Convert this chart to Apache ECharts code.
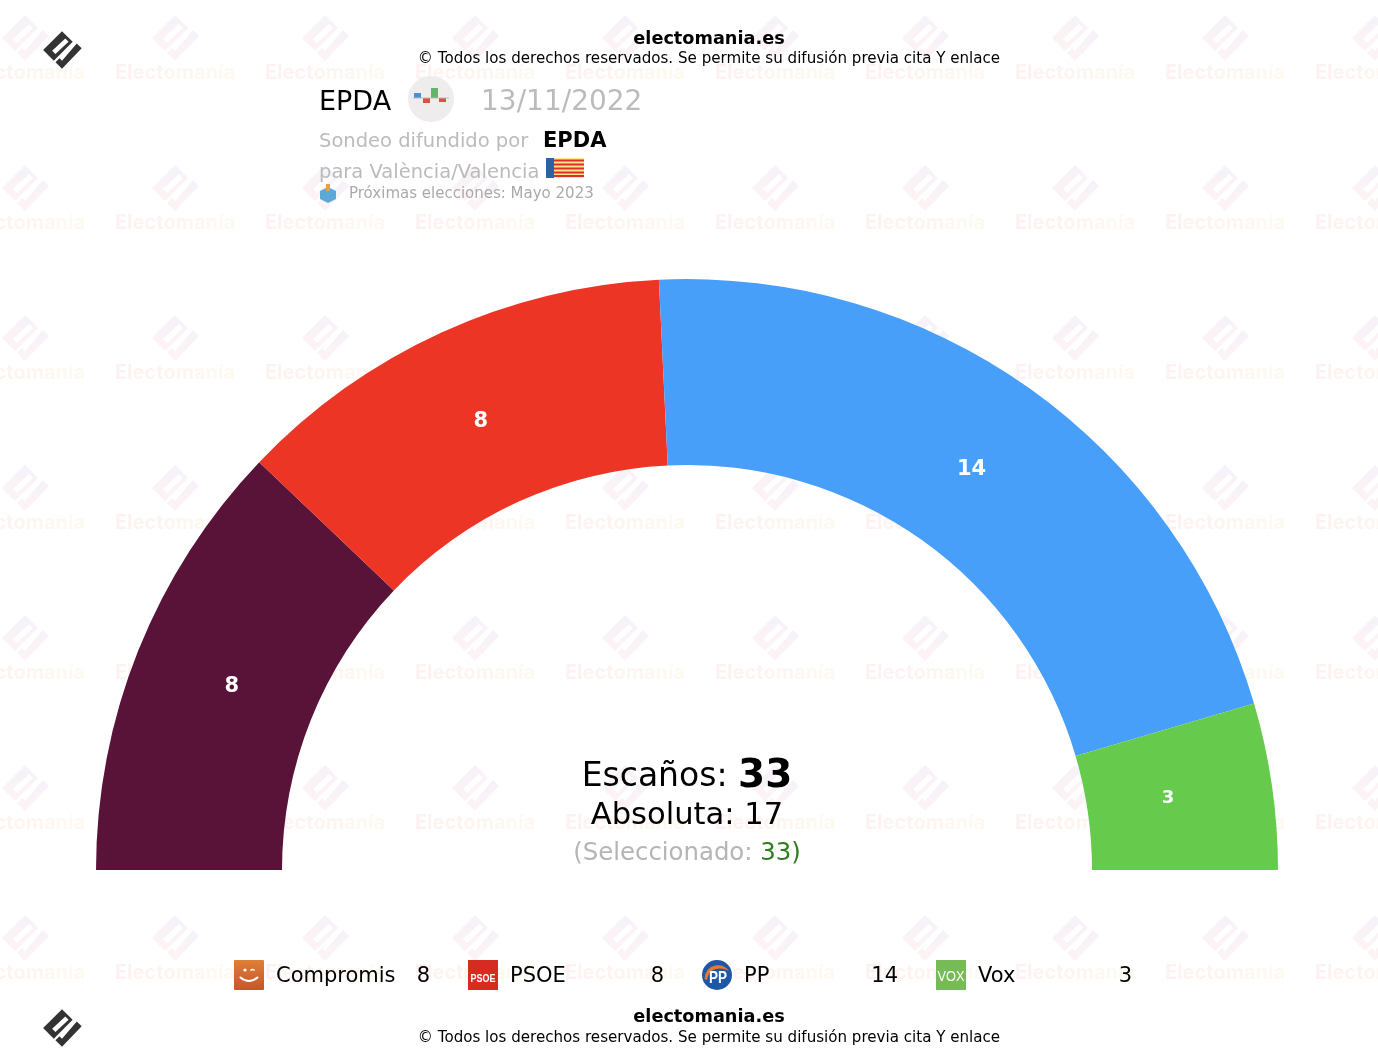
<!DOCTYPE html>
<html><head><meta charset="utf-8">
<style>html,body{margin:0;padding:0;background:#fff;overflow:hidden}#c{width:1378px;height:1060px}</style>
<script src="https://cdn.jsdelivr.net/npm/echarts@6/dist/echarts.min.js"></script>
</head><body><div id="c"></div>
<script>
const parties = ['Compromis', 'PSOE', 'PP', 'Vox'];
const seats = [8, 8, 14, 3];
const colors = ['#5a1338', '#ec3524', '#479ffa', '#66cb4c'];
const totalSeats = 33, majority = 17, selected = 33;
const FONT = '"DejaVu Sans"';

function svg(s){ return 'image://data:image/svg+xml;charset=utf-8,' + encodeURIComponent('<svg xmlns="http://www.w3.org/2000/svg" width="90" height="90" viewBox="0 0 30 30">' + s + '</svg>'); }
const icons = [
  svg('<defs><linearGradient id="g" x1="0" y1="0" x2="0" y2="1"><stop offset="0" stop-color="#dd8038"/><stop offset="1" stop-color="#c9542c"/></linearGradient></defs><rect width="30" height="30" rx="1" fill="url(#g)"/><path d="M6.5 17.5 Q15 24.5 23.5 17.5" stroke="#fff" stroke-width="2" fill="none" stroke-linecap="round"/><circle cx="11" cy="10" r="1.6" fill="#fff"/><path d="M16.5 10.5 Q18.5 8.5 20.5 10.5" stroke="#fff" stroke-width="1.6" fill="none"/>'),
  svg('<rect width="30" height="30" fill="#d52b21"/><text x="15" y="22" font-family="Liberation Sans" font-weight="700" font-size="10.5" fill="#fff" text-anchor="middle" textLength="25" lengthAdjust="spacingAndGlyphs">PSOE</text>'),
  svg('<circle cx="15" cy="15" r="15" fill="#1e57a8"/><path d="M2.5 19 Q3 8 13 5.5 Q22 4 27 11 Q20 7.5 13.5 9 Q6.5 11 5 20 Z" fill="#e8792c"/><text x="16" y="23" font-family="Liberation Sans" font-weight="700" font-size="16" fill="#fff" text-anchor="middle" textLength="18" lengthAdjust="spacingAndGlyphs">PP</text>'),
  svg('<rect width="30" height="30" fill="#76bb57"/><text x="15" y="20.5" font-family="Liberation Sans" font-size="15" fill="#fff" text-anchor="middle" textLength="27" lengthAdjust="spacingAndGlyphs">VOX</text>')
];

const LOGO_BODY = [[0,-23],[13,-10],[-10,13],[-23,0]];
const LOGO_SLOT = [[-12,1],[-8,5],[8,-10],[4,-14]];
const LOGO_CHECK = [[18,-8],[24,-2],[0,23],[-8,15],[-3,10],[0,13]];

const graphics = [];
function logo(cx, cy, scale, fill, z){
  [[LOGO_BODY,fill],[LOGO_SLOT,'#ffffff'],[LOGO_CHECK,fill]].forEach(p => graphics.push({
    type:'polygon', z:z, silent:true,
    shape:{points:p[0].map(q=>[cx+q[0]*scale, cy+q[1]*scale])}, style:{fill:p[1]}
  }));
}
function txt(x, y, text, font, fill, align){
  graphics.push({type:'text', x:x, y:y, z:100, silent:true,
    style:{text:text, font:font, fill:fill, textAlign:align||'left', textVerticalAlign:'middle'}});
}
const wmLogoFill = new echarts.graphic.LinearGradient(0,0,0,1,[{offset:0,color:'rgba(110,70,190,0.07)'},{offset:1,color:'rgba(230,50,60,0.06)'}]);
const WM = 'Electomanía';
const wmRich = {}; let wmText = '';
Array.from(WM).forEach((c,i)=>{
  const t = i/(WM.length-1);
  wmRich['c'+i] = {font:'700 20px Inter', fill:'rgba(228,'+Math.round(70+110*t)+','+Math.round(70-20*t)+',0.075)'};
  wmText += '{c'+i+'|'+c+'}';
});
for(let j=0;j<7;j++){ for(let k=0;k<10;k++){
  const cx = 25+150*k, cy = 38+150*j;
  logo(cx, cy, 1, wmLogoFill, 0);
  graphics.push({type:'text', x:cx, y:cy+35, z:0, silent:true,
    style:{text:wmText, rich:wmRich, textAlign:'center', textVerticalAlign:'middle'}});
}}
logo(62, 50, 0.82, '#333333', 50);
logo(62, 1028, 0.82, '#333333', 50);

const CR = 'electomania.es', RIGHTS = '© Todos los derechos reservados. Se permite su difusión previa cita Y enlace';
[[39,59.5],[1017,1038]].forEach(r=>{
  txt(709, r[0], CR, '700 17.7px '+FONT, '#000', 'center');
  txt(709, r[1], RIGHTS, '15.1px '+FONT, '#000', 'center');
});

txt(319, 103, 'EPDA', '27px '+FONT, '#000');
graphics.push({type:'circle', z:60, silent:true, shape:{cx:431,cy:99,r:23}, style:{fill:'#eeecec'}});
[[414,93,7,5,'#4a90d0'],[423,98,7,5,'#dc5040'],[431,88,7,10,'#66b36a'],[439,98,7,4,'#dc5040']].forEach(b=>{
  graphics.push({type:'rect', z:61, silent:true, shape:{x:b[0],y:b[1],width:b[2],height:b[3]}, style:{fill:b[4]}});
});
graphics.push({type:'rect', z:61, silent:true, shape:{x:413,y:97.5,width:36,height:1}, style:{fill:'#bbb'}});
txt(481, 103, '13/11/2022', '28px '+FONT, '#bbbbbb');
txt(319, 142, 'Sondeo difundido por', '19.5px '+FONT, '#bbbbbb');
txt(543, 142, 'EPDA', '700 21px '+FONT, '#000');
txt(319, 173, 'para València/Valencia', '19.5px '+FONT, '#bbbbbb');
graphics.push({type:'rect',z:61,silent:true,shape:{x:546,y:158,width:38,height:20},style:{fill:'#fde68a'}});
[160.5,164.5,168.5,172.5,176].forEach(y=>graphics.push({type:'rect',z:62,silent:true,shape:{x:554,y:y-1,width:30,height:2},style:{fill:'#d9302a'}}));
graphics.push({type:'rect',z:62,silent:true,shape:{x:546,y:158,width:8,height:20},style:{fill:'#2a62a8'}});
graphics.push({type:'polygon',z:62,silent:true,shape:{points:[[328,187],[336,191],[336,199],[328,203],[320,199],[320,191]]},style:{fill:'#5ba9d6'}});
graphics.push({type:'rect',z:63,silent:true,shape:{x:326,y:184,width:4,height:7},style:{fill:'#e8a04a'}});
txt(349, 194, 'Próximas elecciones: Mayo 2023', '15px '+FONT, '#aaaaaa');

const centerStyle = (rich, text)=>({type:'text', x:687, z:100, silent:true,
  style:{text:text, rich:rich, fill:'#000', textAlign:'center', textVerticalAlign:'middle'}});
graphics.push(Object.assign(centerStyle({a:{font:'33px '+FONT,fill:'#000'},b:{font:'700 39px '+FONT,fill:'#000'}},
  '{a|Escaños: }{b|'+totalSeats+'}'),{y:777}));
graphics.push(Object.assign(centerStyle({a:{font:'30.6px '+FONT,fill:'#000'}},
  '{a|Absoluta: '+majority+'}'),{y:816}));
graphics.push(Object.assign(centerStyle({a:{font:'24.4px '+FONT,fill:'#b5b5b5'},g:{font:'24.4px '+FONT,fill:'#2e7d1e'}},
  '{a|(Seleccionado: }{g|'+selected+')}'),{y:854}));

const labelSizes = [21,21,21,18];
const chart = echarts.init(document.getElementById('c'));
chart.setOption({
  animation:false,
  backgroundColor:'#fff',
  textStyle:{fontFamily:FONT},
  graphic:{elements:graphics},
  legend:{
    left:234, top:960, orient:'horizontal', itemWidth:30, itemHeight:30, itemGap:38, padding:0,
    selectedMode:false,
    data:parties.map((n,i)=>({name:n, icon:icons[i]})),
    formatter:n=>'{n|'+n+'}{v|'+seats[parties.indexOf(n)]+'}',
    textStyle:{rich:{
      n:{fontFamily:FONT,fontSize:21,color:'#000',width:120,align:'left',padding:[4,0,0,7]},
      v:{fontFamily:FONT,fontSize:21,color:'#000',width:34,align:'right',padding:[4,0,0,0]}
    }}
  },
  series:[{
    type:'pie', center:[687,870], radius:[405,591], startAngle:180, endAngle:0, clockwise:true,
    silent:true, z:2,
    itemStyle:{borderWidth:0},
    labelLine:{show:false},
    label:{show:true, position:'inside', color:'#fff', fontFamily:FONT, fontWeight:'bold', formatter:'{c}'},
    labelLayout:p=>({dx:[10,2,-6,-15][p.dataIndex], dy:[3,7,8,0][p.dataIndex]}),
    data:parties.map((n,i)=>({name:n, value:seats[i], itemStyle:{color:colors[i]}, label:{fontSize:labelSizes[i]}}))
  }]
});
</script></body></html>
